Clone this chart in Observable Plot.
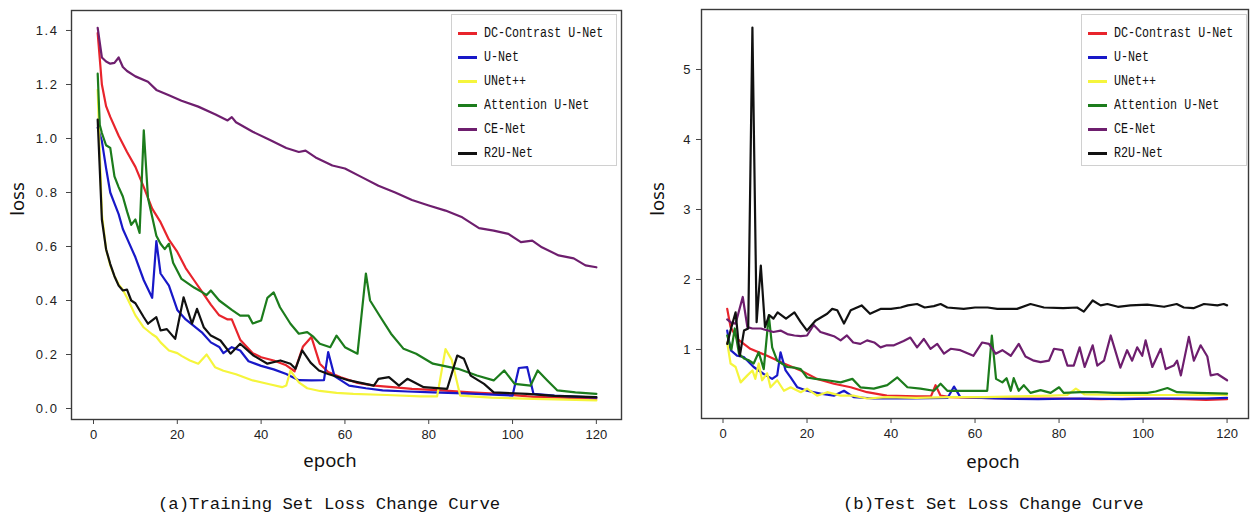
<!DOCTYPE html>
<html><head><meta charset="utf-8">
<script src="https://cdn.jsdelivr.net/npm/d3@7"></script>
<script src="https://cdn.jsdelivr.net/npm/@observablehq/plot@0.6"></script>
<style>
html,body{margin:0;padding:0;background:#fff}
body{width:1250px;height:519px;overflow:hidden;position:relative;font-family:"Liberation Sans",Arial,sans-serif;color:#222}
.panel{position:absolute;top:0}
.legend{position:absolute;border:1px solid #d0d0d0;background:#fff;box-sizing:border-box}
.item{position:absolute;left:0;height:0}
.swatch{position:absolute;width:19px;height:3px;top:-1.5px}
.ltext{position:absolute;top:-9px;font-family:"Liberation Mono","DejaVu Sans Mono",monospace;font-size:11.7px;line-height:18px;white-space:nowrap;color:#111;transform:scaleY(1.2)}
.atitle{position:absolute;font-family:"Noto Sans","Liberation Sans",sans-serif;font-size:18.5px;color:#111;white-space:nowrap}
.caption{position:absolute;top:494px;font-family:"Liberation Mono","DejaVu Sans Mono",monospace;font-size:17.3px;line-height:22px;color:#111;white-space:nowrap}
#left g[aria-label="y-axis tick label"] text{letter-spacing:1.6px}
</style></head><body>
<div id="left" class="panel" style="left:0"></div>
<div id="right" class="panel" style="left:640px"></div>
<script>
// ---------------- data ----------------
const models = ["DC-Contrast U-Net","U-Net","UNet++","Attention U-Net","CE-Net","R2U-Net"];
const colors = ["#e8242c","#1818c8","#f5f53c","#1c7c1c","#6e1e6e","#111111"];
const xTicks = [0,20,40,60,80,100,120];
const trainTicks = [0.0,0.2,0.4,0.6,0.8,1.0,1.2,1.4];
const testTicks = [1,2,3,4,5];

// (a) training set loss, [epoch, loss]
const trainRed = [[1,1.39],[2,1.20],[3,1.12],[4,1.08],[6,1.01],[8,0.95],[10,0.895],[12,0.82],[14,0.74],[16,0.69],[18,0.625],[20,0.58],[22,0.52],[24,0.475],[26,0.43],[28,0.385],[30,0.345],[32,0.33],[33,0.33],[35,0.255],[38,0.205],[40,0.19],[43,0.178],[46,0.16],[48,0.138],[50,0.23],[52,0.265],[54,0.166],[56,0.135],[59,0.116],[63,0.095],[67,0.085],[72,0.078],[76,0.073],[83,0.067],[90,0.06],[97,0.054],[105,0.043],[112,0.04],[120,0.036]];
const trainBlue = [[1,1.04],[2,0.99],[3,0.89],[4,0.80],[5,0.76],[6,0.72],[7,0.665],[8,0.63],[10,0.56],[12,0.475],[14,0.41],[15,0.62],[16,0.50],[18,0.455],[20,0.365],[22,0.33],[24,0.305],[26,0.28],[28,0.245],[30,0.228],[31,0.205],[33,0.227],[35,0.215],[37,0.175],[40,0.158],[43,0.145],[46,0.128],[49,0.105],[52,0.104],[55,0.105],[56,0.209],[57.5,0.12],[61,0.085],[65,0.075],[69,0.067],[75,0.063],[81,0.06],[90,0.055],[100,0.048],[101.5,0.15],[103.5,0.153],[105,0.054],[110,0.048],[120,0.04]];
const trainYellow = [[1,1.18],[2,0.72],[3,0.59],[4,0.53],[5,0.49],[6,0.46],[7,0.44],[8,0.41],[10,0.345],[12,0.30],[14,0.275],[15,0.265],[16,0.245],[18,0.215],[20,0.205],[21,0.195],[23,0.178],[25,0.166],[27,0.20],[29,0.153],[31,0.14],[34,0.127],[38,0.104],[42,0.09],[45,0.079],[46,0.085],[47,0.14],[49,0.097],[51,0.075],[54,0.065],[58,0.058],[62,0.054],[70,0.05],[78,0.045],[82,0.045],[84,0.22],[85.5,0.18],[87.5,0.048],[95,0.04],[105,0.036],[120,0.03]];
const trainGreen = [[1,1.24],[1.5,1.05],[2,1.02],[3,0.975],[4,0.965],[5,0.86],[6,0.82],[7,0.785],[8,0.73],[9,0.68],[10,0.70],[11,0.65],[12,1.03],[13,0.78],[14,0.71],[15,0.64],[16,0.61],[17,0.59],[18,0.61],[19,0.54],[21,0.48],[24,0.448],[26,0.43],[27,0.42],[28,0.437],[30,0.40],[33,0.365],[35,0.344],[37,0.344],[38,0.315],[40,0.326],[41.5,0.41],[43,0.43],[44.5,0.375],[47,0.314],[49,0.277],[51,0.283],[52.5,0.265],[54,0.24],[56.5,0.227],[58,0.27],[60,0.227],[63,0.203],[65,0.50],[66,0.40],[68.5,0.338],[71,0.277],[74,0.221],[77,0.203],[81,0.166],[87,0.147],[91.5,0.122],[95.5,0.104],[98,0.141],[100.5,0.091],[104.3,0.085],[106,0.141],[108.3,0.104],[110.7,0.067],[115,0.06],[120,0.054]];
const trainPurple = [[1,1.41],[2,1.30],[3,1.285],[4,1.277],[5,1.28],[6,1.30],[7,1.265],[8,1.25],[10,1.23],[13,1.21],[15,1.18],[18,1.16],[21,1.14],[25,1.118],[29,1.09],[32,1.067],[33,1.079],[34,1.06],[38,1.025],[42,0.995],[46,0.965],[49,0.95],[50.6,0.955],[53,0.93],[57,0.90],[60,0.889],[64,0.857],[68,0.825],[72,0.80],[76,0.772],[80,0.752],[84,0.733],[88,0.708],[92,0.668],[95.5,0.659],[99,0.647],[102,0.616],[104.7,0.622],[107,0.597],[111,0.567],[114.6,0.556],[117.4,0.53],[120,0.523]];
const trainBlack = [[1,1.07],[2,0.70],[3,0.59],[4,0.535],[5,0.49],[6,0.455],[7,0.437],[8,0.44],[9,0.40],[10,0.39],[12,0.338],[13,0.314],[15,0.338],[16,0.289],[17.5,0.294],[19.5,0.258],[21.5,0.412],[23.5,0.314],[24.7,0.369],[26.3,0.301],[28,0.27],[30.3,0.252],[32.7,0.203],[35,0.24],[38.2,0.196],[41.5,0.166],[44.6,0.178],[47,0.166],[48.2,0.147],[49.8,0.215],[51.8,0.17],[53.8,0.141],[56,0.128],[61,0.104],[66.9,0.085],[68,0.11],[70.5,0.116],[72.9,0.085],[74.9,0.11],[78.8,0.079],[84.4,0.073],[86.8,0.196],[88.4,0.184],[90,0.122],[93.2,0.091],[95.5,0.06],[103.5,0.054],[110,0.047],[120,0.042]];

// (b) test set loss, [epoch, loss]
const testRed = [[1,1.58],[1.8,1.32],[3.4,1.15],[6.5,1.01],[10.5,0.91],[14.5,0.80],[18.5,0.70],[22.4,0.58],[26.4,0.51],[30.4,0.46],[34.3,0.39],[39,0.34],[46,0.33],[49.5,0.33],[50.6,0.49],[51.8,0.34],[54,0.32],[60,0.31],[70,0.30],[80,0.30],[90,0.29],[100,0.30],[110,0.29],[115,0.28],[120,0.29]];
const testBlue = [[1,1.27],[1.8,0.99],[3.4,0.91],[5,0.89],[7.3,0.75],[9.7,0.65],[11.7,0.58],[12.9,0.63],[13.7,0.96],[14.9,0.70],[16.1,0.60],[17.7,0.46],[20,0.41],[23.2,0.37],[26.4,0.34],[28.8,0.41],[31.1,0.32],[35.9,0.30],[45,0.30],[53.5,0.31],[55,0.47],[56.5,0.32],[65,0.30],[75,0.29],[85,0.30],[95,0.29],[105,0.30],[115,0.30],[120,0.31]];
const testYellow = [[1,1.10],[1.8,0.80],[3,0.75],[4.2,0.53],[5.8,0.63],[7,0.70],[7.7,0.58],[8.5,0.80],[9.3,0.56],[10.5,0.66],[11.3,0.46],[12.9,0.56],[14.5,0.41],[16.1,0.46],[18.5,0.39],[20,0.44],[22.4,0.34],[24.8,0.39],[28,0.34],[31,0.34],[34.3,0.30],[39,0.32],[46,0.31],[54,0.32],[62,0.32],[70,0.33],[78,0.34],[82,0.35],[84,0.44],[86,0.36],[95,0.35],[105,0.35],[120,0.35]];
const testGreen = [[1,1.2],[2,1.0],[2.8,1.3],[3.8,0.94],[5,0.87],[6,0.85],[7.3,0.80],[8.5,0.96],[9.7,0.72],[10.9,1.49],[11.7,1.03],[12.9,0.84],[14,0.80],[15.3,0.75],[17,0.74],[18.5,0.72],[20,0.60],[22,0.58],[24.8,0.56],[28,0.53],[30.8,0.58],[32.7,0.46],[35.9,0.44],[39.1,0.49],[41.5,0.60],[43.9,0.46],[47,0.44],[50.2,0.41],[51.8,0.51],[53.4,0.41],[57.3,0.41],[62.9,0.41],[64,1.20],[65,0.58],[66.5,0.53],[67.5,0.59],[68.5,0.41],[69.2,0.59],[70.4,0.41],[71.6,0.49],[73.2,0.38],[75.6,0.42],[78,0.38],[80,0.46],[81.1,0.38],[85.1,0.39],[89,0.39],[93,0.38],[97,0.38],[101,0.38],[103,0.40],[105.8,0.45],[108.1,0.39],[113,0.38],[120,0.37]];
const testPurple = [[1,1.43],[2,1.38],[3,1.37],[4.7,1.75],[5.8,1.32],[7,1.30],[9,1.30],[12,1.25],[13.7,1.27],[15.3,1.22],[17,1.20],[18.5,1.19],[20,1.20],[21.6,1.35],[23.2,1.25],[24.8,1.22],[26.4,1.19],[28,1.13],[29.5,1.20],[31,1.10],[32.7,1.08],[34.3,1.13],[36,1.10],[37.5,1.03],[39,1.06],[40.7,1.06],[43,1.12],[44.6,1.17],[46.2,1.03],[47.8,1.15],[49.4,1.01],[51,1.08],[52.6,0.94],[54.2,1.01],[56.5,0.99],[59.6,0.91],[61.7,1.10],[63.3,1.08],[64.9,0.94],[66.5,0.99],[68.5,0.91],[70.4,1.08],[72,0.90],[74,0.84],[75.6,0.82],[77.6,0.84],[78.8,1.01],[80.8,0.99],[82,0.77],[83.5,0.77],[84.9,1.03],[86.1,0.75],[88,1.06],[89.1,0.77],[90.7,0.84],[92.3,1.20],[94.6,0.74],[96.2,0.99],[97.4,0.84],[98.6,1.03],[99.8,0.91],[100.6,1.13],[102.2,0.75],[104.2,1.01],[105.4,0.72],[107.3,0.77],[108.1,0.84],[109,0.63],[110.9,1.18],[112.1,0.84],[113.7,1.06],[115.3,0.90],[116.1,0.63],[117.7,0.65],[120,0.56]];
const testBlack = [[1,1.08],[2,1.32],[3,1.53],[4,0.91],[5,1.27],[6,1.30],[7,5.6],[8,1.39],[9,2.2],[10,1.32],[11,1.49],[12,1.44],[13,1.53],[15,1.44],[17,1.53],[18.5,1.39],[20,1.27],[22,1.41],[24.8,1.51],[26,1.58],[27.2,1.56],[28.8,1.37],[30.4,1.56],[33,1.63],[35,1.51],[37.5,1.58],[40,1.58],[42.3,1.60],[44,1.63],[46.2,1.65],[48,1.60],[50.2,1.62],[51.8,1.65],[53.4,1.60],[57.3,1.58],[60,1.60],[63,1.60],[65.3,1.58],[70,1.58],[73.2,1.65],[76.4,1.60],[81,1.59],[84.3,1.60],[85.9,1.54],[88,1.70],[89.9,1.63],[91.5,1.65],[94,1.61],[97,1.63],[101,1.64],[105,1.61],[108,1.65],[109.7,1.60],[112,1.59],[114.5,1.65],[117.7,1.63],[119.2,1.65],[120,1.63]];

const trainSeries = [trainRed,trainBlue,trainYellow,trainGreen,trainPurple,trainBlack];
const testSeries = [testRed,testBlue,testYellow,testGreen,testPurple,testBlack];

function table(series){
  return series.flatMap((s,i)=>s.map(([epoch,loss])=>({epoch,loss,model:models[i]})));
}

function panel(series, opt){
  return Plot.plot({
    width: opt.width, height: 470,
    marginLeft: opt.ml, marginRight: opt.mr, marginTop: opt.mt, marginBottom: opt.mb,
    style:{fontFamily:"'Liberation Sans',Arial,sans-serif", fontSize:"13px", color:"#222", background:"transparent", overflow:"visible"},
    x:{domain:opt.xd, label:null},
    y:{domain:opt.yd, label:null},
    color:{domain:models, range:colors},
    marks:[
      Plot.axisX({ticks:xTicks, tickSize:5, tickPadding:5, label:null, stroke:"#444", fontSize:13}),
      Plot.axisY({ticks:opt.yt, tickSize:5, tickPadding:opt.tp, label:null, stroke:"#444", fontSize:13, tickFormat:opt.fmt}),
      Plot.line(table(series), {x:"epoch", y:"loss", z:"model", stroke:"model", strokeWidth:2.2, strokeLinejoin:"round"}),
      Plot.frame({stroke:"#3a3a3a", strokeWidth:1.4})
    ]
  });
}

document.getElementById("left").append(panel(trainSeries,{width:640, ml:71, mr:19, mt:10, mb:51, xd:[-5.25,126], yd:[-0.0407,1.474], yt:trainTicks, tp:8, fmt:d=>d.toFixed(1)}));
document.getElementById("right").append(panel(testSeries,{width:610, ml:61, mr:2, mt:9, mb:52, xd:[-5.12,125.1], yd:[0.014,5.857], yt:testTicks, tp:6, fmt:d=>String(d)}));

// legends
function legend(left, width){
  const box = document.createElement("div");
  box.className="legend";
  box.style.left=left+"px"; box.style.top="14px"; box.style.width=width+"px"; box.style.height="152px";
  models.forEach((m,i)=>{
    const it=document.createElement("div"); it.className="item"; it.style.top=(18+24*i)+"px";
    const sw=document.createElement("div"); sw.className="swatch"; sw.style.left="6px"; sw.style.background=colors[i];
    const tx=document.createElement("div"); tx.className="ltext"; tx.style.left="32px"; tx.textContent=m;
    it.append(sw,tx); box.append(it);
  });
  document.body.append(box);
}
legend(451,166);
legend(1081,166);

function title(text,x,y,rot){
  const s=document.createElement("div"); s.className="atitle"; s.textContent=text;
  s.style.left=x+"px"; s.style.top=y+"px";
  s.style.transform="translate(-50%,-50%)"+(rot?" rotate(-90deg)":"");
  document.body.append(s);
}
title("loss",16,199,true);
title("epoch",330,459,false);
title("loss",656,199,true);
title("epoch",993,460,false);

function caption(text,x){
  const c=document.createElement("div"); c.className="caption"; c.textContent=text; c.style.left=x+"px";
  document.body.append(c);
}
caption("(a)Training Set Loss Change Curve",158);
caption("(b)Test Set Loss Change Curve",843);
</script>
</body></html>
